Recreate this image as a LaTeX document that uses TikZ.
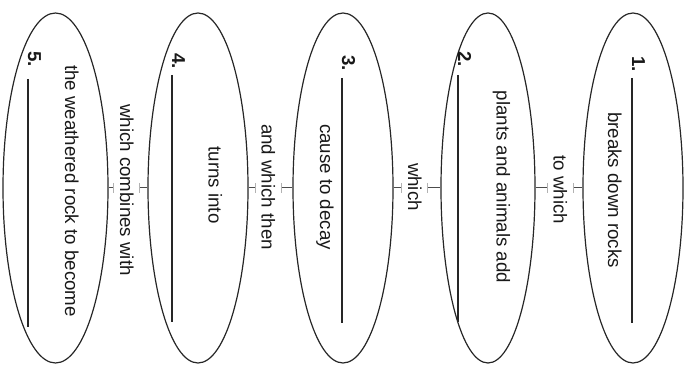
\documentclass[tikz,border=0pt]{standalone}
\usepackage{fontspec}
\setmainfont{Liberation Sans}
\usetikzlibrary{shapes.geometric}
\begin{document}
\begin{tikzpicture}[x=1pt,y=-1pt,
  oval/.style={draw=black!85, line width=1.2pt, ellipse, minimum height=350pt, inner sep=0pt},
  txt/.style={rotate=-90, anchor=base, inner sep=0pt, text=black!90, font=\fontsize{18.7}{22}\selectfont},
  num/.style={rotate=-90, anchor=base west, inner sep=0pt, text=black!90, font=\bfseries\fontsize{18.7}{22}\selectfont},
  blank/.style={line width=1.6pt, draw=black!85},
  link/.style={draw=black!70, line width=1pt},
  lab/.style={rotate=-90, anchor=base, fill=white, inner xsep=2pt, inner ysep=6pt, text height=13.5pt, text depth=0pt, text=black!90, font=\fontsize{18.7}{22}\selectfont},
  tick/.style={draw=black!30, line width=0.8pt}]
\useasboundingbox (0,0) rectangle (686,371);
% ovals
\node[oval, minimum width=105pt] (e5) at (55.5,188) {};
\node[oval, minimum width=100pt] (e4) at (198,188) {};
\node[oval, minimum width=100pt] (e3) at (343,188) {};
\node[oval, minimum width=94pt]  (e2) at (488,188) {};
\node[oval, minimum width=100pt] (e1) at (633,188) {};
% connectors
\draw[link] (e5.east) -- (e4.west);
\draw[link] (e4.east) -- (e3.west);
\draw[link] (e3.east) -- (e2.west);
\draw[link] (e2.east) -- (e1.west);
% connector labels
\node[lab] (l1) at (553.5,190) {to which};
\node[lab] (l2) at (408,187) {which};
\node[lab] (l3) at (261.5,187) {and which then};
\node[lab] (l4) at (120,190) {which combines with};
\foreach \l in {l1,l2,l3,l4}{
  \draw[tick] (\l.north |- e1.west) ++(0,-5) -- ++(0,10);
  \draw[tick] (\l.south |- e1.west) ++(0,-5) -- ++(0,10);
}
% oval contents
\node[num] (n1) at (632,56) {1.};
\draw[blank] (632,78) coordinate (b1s) -- (632,323) coordinate (b1e);
\node[txt] (t1) at (608,190) {breaks down rocks};

\node[num] (n2) at (458,51) {2.};
\draw[blank] (458,75) coordinate (b2s) -- (458,322) coordinate (b2e);
\node[txt] (t2) at (496.5,187) {plants and animals add};

\node[num] (n3) at (342,55) {3.};
\draw[blank] (342,78) coordinate (b3s) -- (342,323) coordinate (b3e);
\node[txt] (t3) at (320,187) {cause to decay};

\node[num] (n4) at (172,53) {4.};
\draw[blank] (172,75) coordinate (b4s) -- (172,322) coordinate (b4e);
\node[txt] (t4) at (208.5,185) {turns into};

\node[num] (n5) at (28,51) {5.};
\draw[blank] (28,79) coordinate (b5s) -- (28,327) coordinate (b5e);
\node[txt] (t5) at (65,191) {the weathered rock to become};
\end{tikzpicture}
\end{document}
